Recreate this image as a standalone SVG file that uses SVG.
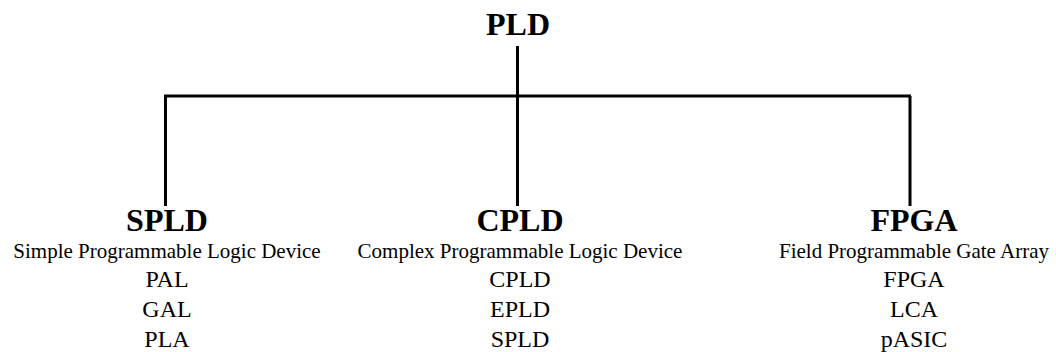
<svg xmlns="http://www.w3.org/2000/svg" width="1056" height="352" viewBox="0 0 1056 352">
<style>
.t{font-family:'Liberation Serif',Tinos,'Times New Roman',Times,serif;fill:#000;text-anchor:middle}
.h{font-size:32px;font-weight:bold}
.s{font-size:21px}
.i{font-size:24px}
.c{stroke:#000;stroke-width:3;fill:none}
</style>
<rect width="1056" height="352" fill="#fff"/>
<g id="connectors">
<path class="c" d="M517.5 46V96M164 96H911M165.5 96V206M517.5 96V206M910 96V206"/>
</g>
<g id="node-pld"><text class="t h" x="518" y="35">PLD</text></g>
<g id="node-spld">
<text class="t h" x="167" y="231">SPLD</text>
<text class="t s" x="167" y="258">Simple Programmable Logic Device</text>
<text class="t i" x="167" y="287">PAL</text>
<text class="t i" x="167" y="317">GAL</text>
<text class="t i" x="167" y="347">PLA</text>
</g>
<g id="node-cpld">
<text class="t h" x="520" y="231">CPLD</text>
<text class="t s" x="520" y="258">Complex Programmable Logic Device</text>
<text class="t i" x="520" y="287">CPLD</text>
<text class="t i" x="520" y="317">EPLD</text>
<text class="t i" x="520" y="347">SPLD</text>
</g>
<g id="node-fpga">
<text class="t h" x="914" y="231">FPGA</text>
<text class="t s" x="914" y="258">Field Programmable Gate Array</text>
<text class="t i" x="914" y="287">FPGA</text>
<text class="t i" x="914" y="317">LCA</text>
<text class="t i" x="914" y="347">pASIC</text>
</g>
</svg>
